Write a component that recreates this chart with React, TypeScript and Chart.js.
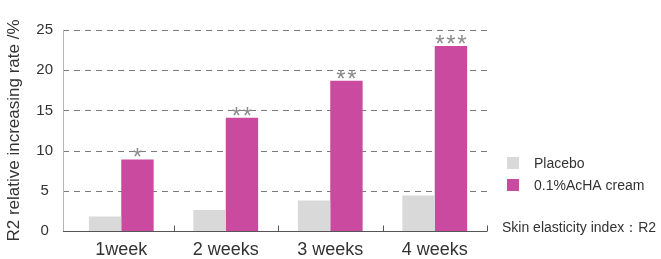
import React, { useEffect, useRef } from "react";
import { Chart, registerables } from "chart.js";

Chart.register(...registerables);

const categories = ["1week", "2 weeks", "3 weeks", "4 weeks"];
const placeboValues = [1.8, 2.6, 3.8, 4.4];
const achaValues = [8.9, 14.1, 18.7, 23.0];
const significance = ["*", "**", "**", "***"];
const seriesNames = ["Placebo", "0.1%AcHA cream"];
const yTicks = [0, 5, 10, 15, 20, 25];
const yTitle = "R2 relative increasing rate /%";
const noteText = "Skin elasticity index\uFF1AR2";

const PLACEBO_COLOR = "#D9D9D9";
const ACHA_COLOR = "#C94A9F";
const TEXT_COLOR = "#333333";
const FONT = "'Liberation Sans', Arial, Helvetica, sans-serif";

const customPlugin = {
  id: "custom",
  beforeDatasetsDraw(chart: any) {
    const { ctx, chartArea, scales } = chart;
    const y = scales.y;
    const left = chartArea.left - 6;
    ctx.save();
    ctx.strokeStyle = "#7a7a7a";
    ctx.lineWidth = 1;
    ctx.setLineDash([6, 5]);
    yTicks.forEach((v) => {
      if (v === 0) return;
      const py = Math.round(y.getPixelForValue(v)) + 0.5;
      ctx.beginPath();
      ctx.moveTo(left, py);
      ctx.lineTo(chartArea.right, py);
      ctx.stroke();
    });
    ctx.setLineDash([]);
    ctx.strokeStyle = "#b5b5b5";
    ctx.beginPath();
    const lx = Math.round(left) + 0.5;
    ctx.moveTo(lx, y.getPixelForValue(25));
    ctx.lineTo(lx, y.getPixelForValue(0));
    ctx.stroke();
    ctx.restore();
  },
  afterDatasetsDraw(chart: any) {
    const { ctx, chartArea, scales } = chart;
    const x = scales.x;
    const y = scales.y;
    const left = chartArea.left - 6;
    const by = Math.round(y.getPixelForValue(0)) + 0.5;
    ctx.save();
    ctx.strokeStyle = "#555555";
    ctx.lineWidth = 1;
    ctx.beginPath();
    ctx.moveTo(left, by);
    ctx.lineTo(chartArea.right, by);
    ctx.stroke();
    for (let i = 0; i < categories.length; i++) {
      const bx =
        i < categories.length - 1
          ? (x.getPixelForValue(i) + x.getPixelForValue(i + 1)) / 2
          : chartArea.right - 0.5;
      const tx = Math.round(bx) + 0.5;
      ctx.beginPath();
      ctx.moveTo(tx, by);
      ctx.lineTo(tx, by - 6);
      ctx.stroke();
    }
    const meta = chart.getDatasetMeta(1);
    ctx.fillStyle = "#8a8a8a";
    ctx.font = `24px ${FONT}`;
    ctx.textAlign = "center";
    ctx.textBaseline = "alphabetic";
    meta.data.forEach((bar: any, i: number) => {
      const n = significance[i].length;
      const gap = 11;
      for (let k = 0; k < n; k++) {
        const sx = bar.x + (k - (n - 1) / 2) * gap;
        ctx.fillText("*", sx, bar.y + 6);
      }
    });
    const legX = chartArea.right + 20;
    const colors = [PLACEBO_COLOR, ACHA_COLOR];
    const legY = [163, 185];
    ctx.font = `14px ${FONT}`;
    ctx.textAlign = "left";
    ctx.textBaseline = "middle";
    seriesNames.forEach((name, i) => {
      ctx.fillStyle = colors[i];
      ctx.fillRect(legX, legY[i] - 6, 12, 12);
      ctx.fillStyle = TEXT_COLOR;
      ctx.fillText(name, legX + 27, legY[i] + 1);
    });
    ctx.fillText(noteText, chartArea.right + 15, 228);
    ctx.restore();
  },
};

export default function App() {
  const canvasRef = useRef<HTMLCanvasElement>(null);

  useEffect(() => {
    document.body.style.margin = "0";
    const canvas = canvasRef.current;
    if (!canvas) return;
    const chart = new Chart(canvas, {
      type: "bar",
      data: {
        labels: categories,
        datasets: [
          {
            label: seriesNames[0],
            data: placeboValues,
            backgroundColor: PLACEBO_COLOR,
            categoryPercentage: 0.62,
            barPercentage: 1.0,
          },
          {
            label: seriesNames[1],
            data: achaValues,
            backgroundColor: ACHA_COLOR,
            categoryPercentage: 0.62,
            barPercentage: 1.0,
          },
        ],
      },
      options: {
        responsive: false,
        animation: false,
        devicePixelRatio: 1,
        layout: { padding: { left: 0, right: 174, top: 30, bottom: 0 } },
        plugins: {
          legend: { display: false },
          tooltip: { enabled: false },
        },
        scales: {
          x: {
            grid: { display: false, drawTicks: false },
            border: { display: false },
            ticks: {
              color: TEXT_COLOR,
              font: { family: FONT, size: 18 },
              padding: 8,
            },
            afterFit: (s: any) => {
              s.height = 28;
            },
          },
          y: {
            min: 0,
            max: 25,
            grid: { display: false, drawTicks: false },
            border: { display: false },
            ticks: {
              stepSize: 5,
              color: TEXT_COLOR,
              font: { family: FONT, size: 15 },
              crossAlign: "center",
              padding: 16,
            },
            title: {
              display: true,
              text: yTitle,
              color: TEXT_COLOR,
              font: { family: FONT, size: 17 },
              padding: { top: 4, bottom: 0 },
            },
            afterFit: (s: any) => {
              s.width = 69;
            },
          },
        },
      },
      plugins: [customPlugin],
    });
    return () => chart.destroy();
  }, []);

  return (
    <div style={{ width: 661, height: 259, background: "#fff" }}>
      <canvas ref={canvasRef} width={661} height={259} />
    </div>
  );
}
